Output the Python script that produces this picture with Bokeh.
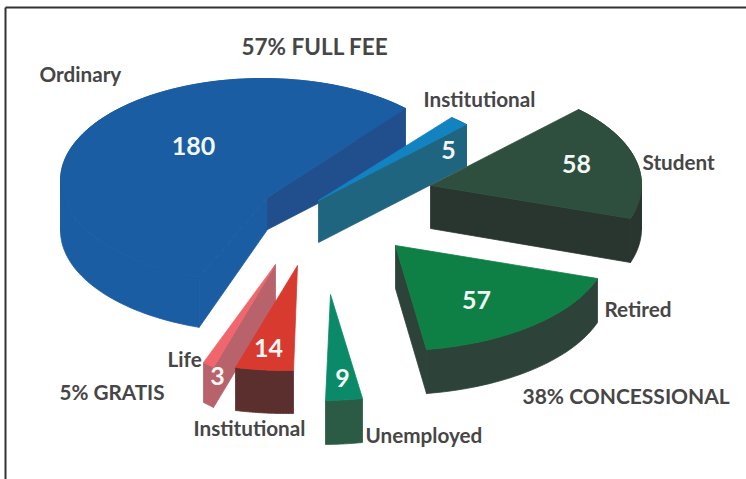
import numpy as np
from bokeh.plotting import figure
from bokeh.models import ColumnDataSource, Range1d
from bokeh.core.properties import value
from bokeh.embed import file_html
from bokeh.resources import INLINE

# ---- data ----
categories = ["Ordinary", "Institutional", "Student", "Retired", "Unemployed", "Institutional", "Life"]
counts = [180, 5, 58, 57, 9, 14, 3]
groups = ["57% FULL FEE", "38% CONCESSIONAL", "5% GRATIS"]

total = sum(counts)
sweeps = [c / total * 2 * np.pi for c in counts]

# ---- layout: drawn in the reference's pixel space ----
W, H = 746, 479
p = figure(width=W, height=H, x_range=Range1d(0, 746), y_range=Range1d(479, 0),
           output_backend="svg", toolbar_location=None, min_border=0)
p.axis.visible = False
p.grid.visible = False
p.outline_line_color = None
p.background_fill_color = "white"


def affine_arc(apex, p0, p1, sweep, n=40):
    """Sector arc running from p0 to p1 around apex, with an angle set by the value."""
    a, u, v = np.array(apex, float), np.array(p0, float) - apex, np.array(p1, float) - apex
    b = (v - np.cos(sweep) * u) / np.sin(sweep)
    t = np.linspace(0, sweep, n)
    return a[0] + np.cos(t) * u[0] + np.sin(t) * b[0], a[1] + np.cos(t) * u[1] + np.sin(t) * b[1]


def ellipse_arc(c, rx, ry, start_deg, sweep, k=1.0, n=120):
    t = np.radians(start_deg) + np.linspace(0, sweep * k, n)
    return c[0] + rx * np.cos(t), c[1] - ry * np.sin(t)


xs, ys, fills = [], [], []


def add(x, y, col):
    xs.append(list(x)); ys.append(list(y)); fills.append(col)


def band(ax, ay, depth, col):
    """Extruded rim, cut at the arc's x-turning points so no piece folds over itself."""
    d = np.sign(np.diff(ax))
    cuts = [0] + [i + 1 for i in range(len(d) - 1) if d[i] != d[i + 1]] + [len(ax) - 1]
    for s, e in zip(cuts[:-1], cuts[1:]):
        sx, sy = ax[s:e + 1], ay[s:e + 1]
        add(list(sx) + list(sx[::-1]), list(sy) + list(sy[::-1] + depth), col)


def slice3d(apex, ax, ay, depth, apex_depth, top, arc_side, edge0=None, edge1=None):
    band(ax, ay, depth, arc_side)
    if edge1:
        add([apex[0], ax[-1], ax[-1], apex[0]], [apex[1], ay[-1], ay[-1] + depth, apex[1] + apex_depth], edge1)
    if edge0:
        add([apex[0], ax[0], ax[0], apex[0]], [apex[1], ay[0], ay[0] + depth, apex[1] + apex_depth], edge0)
    add(list(ax) + [apex[0]], list(ay) + [apex[1]], top)


# Ordinary
ax, ay = ellipse_arc((262, 180), 202, 102, 45, sweeps[0], k=1.04)
slice3d((267, 197), ax, ay, 50, 32, "#1a5da2", "#1a5da2", edge0="#214f8e", edge1="#1a5da2")
# Institutional (full fee)
ax, ay = affine_arc((318, 200), (466, 124), (451, 117), sweeps[1])
slice3d((318, 200), ax, ay, 42, 42, "#1283c0", "#1f6580", edge0="#20657f")
# Student
ax, ay = affine_arc((430, 185), (630, 218), (578, 109), sweeps[2])
slice3d((430, 185), ax, ay, 44, 43, "#2f4f3e", "#29362f", edge0="#29362f")
# Retired
ax, ay = affine_arc((395, 245), (426, 349), (597, 278), sweeps[3])
slice3d((395, 245), ax, ay, 44, 43, "#0e7f45", "#2d4339", edge0="#2d4339")
# Life
ax, ay = affine_arc((275, 264), (213, 367), (203, 362), sweeps[6])
slice3d((275, 264), ax, ay, 40, 40, "#f0666c", "#b8636c", edge0="#b8636c")
# Institutional (gratis)
ax, ay = affine_arc((297, 265), (293, 370), (235, 367), sweeps[5])
slice3d((297, 265), ax, ay, 43, 43, "#d93a30", "#5b2f2d")
# Unemployed
ax, ay = affine_arc((330, 294), (362, 398), (325, 400), sweeps[4])
slice3d((330, 294), ax, ay, 44, 44, "#0b8a6a", "#2b5a45")

src = ColumnDataSource(dict(xs=xs, ys=ys, fill=fills))
p.patches("xs", "ys", source=src, fill_color="fill", line_color="fill", line_width=0.8)

# frame (top and left rules)
p.line([5, 5], [479, 7], line_color="#333333", line_width=2)
p.line([5, 746], [7, 7], line_color="#333333", line_width=2)

# value labels
val_x = [193, 448, 576, 476, 342, 268, 217]
val_y = [145, 149, 163, 299, 377, 347, 375]
p.text(val_x, val_y, text=[str(c) for c in counts], text_color="#f2f7f6", text_align="center",
       text_baseline="middle", text_font=value("Lato"), text_font_size="25px", text_font_style="bold")

# category labels
cat_x = [39, 423, 642, 604, 365, 193, 167]
cat_y = [73, 98, 161, 308, 434, 427, 358]
p.text(cat_x, cat_y, text=categories, text_color="#464646", text_align="left", text_baseline="middle",
       text_font=value("Lato"), text_font_size="20.7px", text_font_style="bold")

# group labels
grp_x = [241, 522, 59]
grp_y = [46, 395, 391]
grp_size = ["22.5px", "21px", "20.7px"]
p.text(grp_x, grp_y, text=groups, text_color="#464646", text_align="left", text_baseline="middle",
       text_font=value("Lato"), text_font_size=grp_size, text_font_style="bold")

open("out.html", "w").write(file_html(p, INLINE))
